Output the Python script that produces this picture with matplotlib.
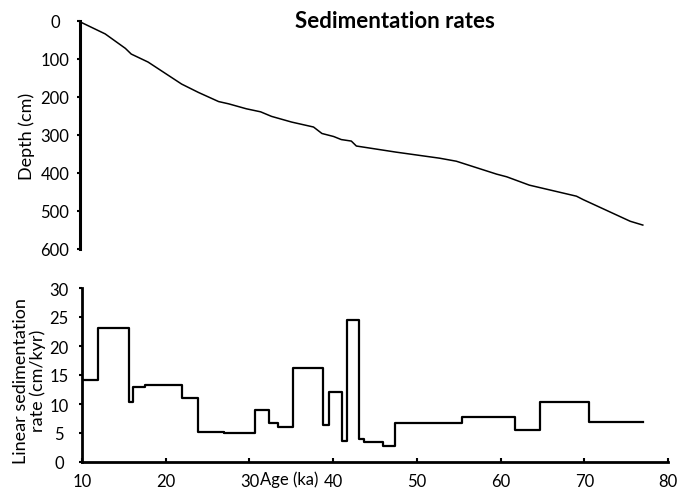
"""
Sedimentation rates: age-depth curve and linear sedimentation rate
"""

import numpy as np
import matplotlib
matplotlib.use('Agg')
import matplotlib.pyplot as plt

plt.rcParams['font.family'] = ['Lato', 'DejaVu Sans']

# age-depth curve (top panel)
age_depth = [9.8, 13.0, 15.4, 16.1, 18.1, 22.1, 24.1, 26.5, 27.7, 29.8, 31.5, 32.8, 35.2, 37.8,
             38.8, 40.2, 41.1, 42.3, 42.9, 47.6, 52.8, 54.8, 59.6, 60.8, 63.5, 69.1, 69.9, 75.5, 77.0]
depth = [0, 34, 72, 87, 108, 166, 188, 212, 218, 231, 239, 251, 266, 279,
         296, 304, 312, 316, 329, 345, 361, 369, 403, 410, 432, 461, 470, 527, 537]

# linear sedimentation rate (bottom panel), step edges and rates
edges = [10, 11.9, 15.6, 16.1, 17.5, 21.9, 23.8, 27.0, 30.7, 32.3, 33.4, 35.2, 38.8,
         39.5, 41.1, 41.7, 43.1, 43.7, 46.0, 47.4, 55.4, 61.7, 64.7, 70.6, 77.0]
rates = [14.1, 23.1, 10.3, 12.9, 13.3, 11.0, 5.2, 5.0, 9.0, 6.7, 6.0, 16.2, 6.4,
         12.1, 3.6, 24.5, 4.0, 3.5, 2.8, 6.7, 7.7, 5.5, 10.3, 6.9]

W, H = 683, 489
fig = plt.figure(figsize=(W/100, H/100), dpi=100)

ax1 = fig.add_axes([80/W, 1-250/H, (668-80)/W, 228/H])
ax2 = fig.add_axes([82/W, 1-463/H, (668-82)/W, 174/H])

fs = 12

# top panel
ax1.plot(age_depth, depth, color='black', lw=1.1, clip_on=False)
ax1.set_xlim(10, 80)
ax1.set_ylim(600, 0)
ax1.set_yticks(np.arange(0, 601, 100))
ax1.tick_params(axis='y', direction='out', length=2, width=1.5, labelsize=fs, pad=16)
for lab in ax1.get_yticklabels():
    lab.set_ha('center')
ax1.set_xticks([])
for s in ['top', 'right', 'bottom']:
    ax1.spines[s].set_visible(False)
ax1.spines['left'].set_linewidth(2.2)
ax1.set_ylabel('Depth (cm)', fontsize=13)
ax1.yaxis.set_label_coords(-0.090, 0.5)
ax1.yaxis.label.set_va('center')
ax1.text(0.536, 1.0, 'Sedimentation rates', transform=ax1.transAxes,
         fontsize=16, fontweight='bold', ha='center', va='center')

# bottom panel
ax2.step(edges, rates + [rates[-1]], where='post', color='black', lw=1.6)
ax2.set_xlim(10, 80)
ax2.set_ylim(0, 30)
ax2.set_yticks(np.arange(0, 31, 5))
ax2.set_xticks(np.arange(10, 81, 10))
ax2.tick_params(axis='y', direction='out', length=2, width=1.5, labelsize=fs, pad=14.5)
for lab in ax2.get_yticklabels():
    lab.set_ha('center')
ax2.tick_params(axis='x', direction='in', length=3, width=1.5, labelsize=fs, pad=8)
for s in ['top', 'right']:
    ax2.spines[s].set_visible(False)
ax2.spines['left'].set_linewidth(2)
ax2.spines['bottom'].set_linewidth(2)
ax2.set_ylabel('Linear sedimentation\nrate (cm/kyr)', fontsize=13, linespacing=1.1)
ax2.yaxis.set_label_coords(-0.0896, 0.47)
ax2.yaxis.label.set_va('center')
ax2.set_xlabel('Age (ka)', fontsize=fs)
ax2.xaxis.set_label_coords(0.353, -0.097)
ax2.xaxis.label.set_va('center')

fig.savefig('out.png', dpi=100)
